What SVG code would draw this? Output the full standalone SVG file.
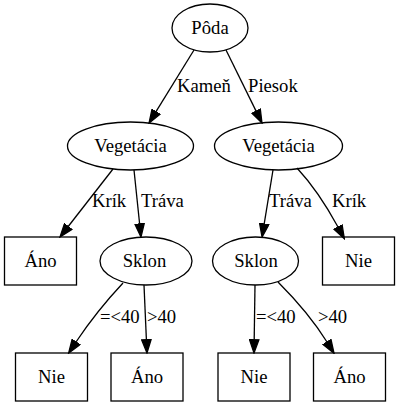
<svg xmlns="http://www.w3.org/2000/svg" width="400" height="407" viewBox="0 0 400 407">
<style>
  .n { fill: none; stroke: #000; stroke-width: 1.3; }
  .e { fill: none; stroke: #000; stroke-width: 1.3; marker-end: url(#arr); }
  .c { text-anchor: middle; }
</style>
<defs>
  <marker id="arr" markerUnits="userSpaceOnUse" markerWidth="15" markerHeight="11" viewBox="-0.5 -0.5 15 11" refX="0" refY="5" orient="auto">
    <path d="M0,0.3 L13.3,5 L0,9.7 Z" fill="#000" stroke="#000" stroke-width="1.3"/>
  </marker>
</defs>
<rect width="400" height="407" fill="#fff"/>

<g font-family="Liberation Serif" font-size="18.67" fill="#000">
<g id="edges">
  <path class="e" d="M194,50 L156,111.7"/>
  <text x="177" y="92">Kameň</text>
  <path class="e" d="M226,50 L256.1,111.1"/>
  <text x="248" y="92">Piesok</text>

  <path class="e" d="M113,169 L68.2,226.5"/>
  <text x="92" y="207">Krík</text>
  <path class="e" d="M134,170 L139.6,223.8"/>
  <text x="141" y="207">Tráva</text>

  <path class="e" d="M273,170 L264.2,223.9"/>
  <text x="269" y="207">Tráva</text>
  <path class="e" d="M297,168 C310,182 326,205 338,227"/>
  <text x="332" y="207">Krík</text>

  <path class="e" d="M123,283 C108,299 92,318 76,342"/>
  <text x="100" y="323">=&lt;40</text>
  <path class="e" d="M144,285 L146.4,339.7"/>
  <text x="147" y="323">&gt;40</text>

  <path class="e" d="M255,285 L254.2,339.7"/>
  <text x="256" y="323">=&lt;40</text>
  <path class="e" d="M278,282 C292,296 312,318 327,342"/>
  <text x="318" y="323">&gt;40</text>
</g>

<g id="poda">
  <ellipse class="n" cx="210" cy="28" rx="38" ry="24"/>
  <text class="c" x="210" y="34">Pôda</text>
</g>
<g id="veg1">
  <ellipse class="n" cx="130.5" cy="146" rx="63" ry="24"/>
  <text class="c" x="130.5" y="152">Vegetácia</text>
</g>
<g id="veg2">
  <ellipse class="n" cx="278.5" cy="146" rx="64" ry="24"/>
  <text class="c" x="278.5" y="152">Vegetácia</text>
</g>
<g id="ano1">
  <rect class="n" x="4.5" y="237" width="72" height="48"/>
  <text class="c" x="40.5" y="267">Áno</text>
</g>
<g id="sklon1">
  <ellipse class="n" cx="146" cy="261" rx="46" ry="24"/>
  <text class="c" x="144.5" y="267">Sklon</text>
</g>
<g id="sklon2">
  <ellipse class="n" cx="255.5" cy="261" rx="43" ry="24"/>
  <text class="c" x="256" y="267">Sklon</text>
</g>
<g id="nie1">
  <rect class="n" x="322.5" y="237" width="72" height="48"/>
  <text class="c" x="358.5" y="267">Nie</text>
</g>
<g id="nie2">
  <rect class="n" x="15.5" y="353" width="72" height="48"/>
  <text class="c" x="51.5" y="383">Nie</text>
</g>
<g id="ano2">
  <rect class="n" x="111" y="353" width="72" height="48"/>
  <text class="c" x="147" y="383">Áno</text>
</g>
<g id="nie3">
  <rect class="n" x="218" y="353" width="72" height="48"/>
  <text class="c" x="254" y="383">Nie</text>
</g>
<g id="ano3">
  <rect class="n" x="313.5" y="353" width="72" height="48"/>
  <text class="c" x="349.5" y="383">Áno</text>
</g>
</g>
</svg>
